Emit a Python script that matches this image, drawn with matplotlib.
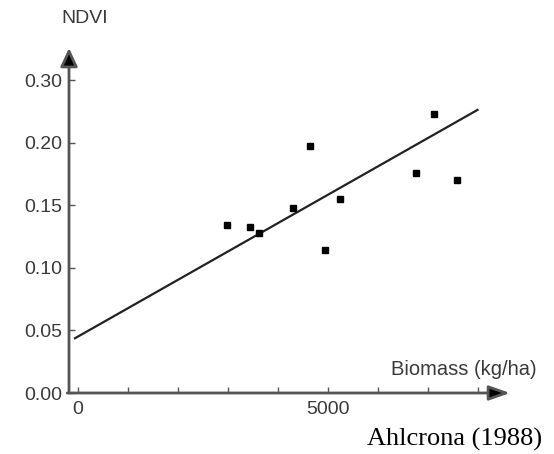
import matplotlib
matplotlib.use("Agg")
import matplotlib.pyplot as plt

# Data
biomass = [2974, 3446, 3620, 4294, 4646, 4946, 5234, 6760, 7126, 7586]
ndvi = [0.134, 0.133, 0.128, 0.148, 0.197, 0.114, 0.155, 0.176, 0.223, 0.170]
fit_x = [-60, 7990]
fit_intercept = 0.0451
fit_slope = 2.266e-5

ytick_pos = [0.00, 0.05, 0.10, 0.15, 0.20, 0.25]
ytick_labels = ["0.00", "0.05", "0.10", "0.15", "0.20", "0.30"]
xtick_pos = [0, 1000, 2000, 3000, 4000, 5000, 6000, 7000, 8000]
xtick_labels = ["0", "", "", "", "", "5000", "", "", ""]

W, H = 554, 454
fig = plt.figure(figsize=(W / 100, H / 100), dpi=100)
fig.patch.set_facecolor("white")

left_px, right_px, bottom_px, top_px = 69, 510, 393, 48
ax = fig.add_axes([left_px / W, (H - bottom_px) / H,
                   (right_px - left_px) / W, (bottom_px - top_px) / H])
ax.set_xlim(-180, 8640)
ax.set_ylim(0, 0.2756)

for s in ax.spines.values():
    s.set_visible(False)

axis_col = "#555555"
txt_col = "#3a3a3a"
font = ["Liberation Sans", "DejaVu Sans"]

# axis lines with arrowheads
ax.annotate("", xy=(1, 0), xytext=(-0.004, 0), xycoords="axes fraction",
            arrowprops=dict(arrowstyle="-|>,head_length=0.85,head_width=0.3",
                            lw=2, mutation_scale=15,
                            shrinkA=0, shrinkB=0, ec=axis_col, fc="black"))
ax.annotate("", xy=(0, 1), xytext=(0, 0), xycoords="axes fraction",
            arrowprops=dict(arrowstyle="-|>,head_length=0.75,head_width=0.35",
                            lw=2, mutation_scale=15,
                            shrinkA=0, shrinkB=0, ec=axis_col, fc="black"))

ax.set_yticks(ytick_pos)
ax.set_yticklabels(ytick_labels)
ax.set_xticks(xtick_pos)
ax.set_xticklabels(xtick_labels)
ax.tick_params(axis="both", direction="in", length=4, width=1, color=axis_col,
               labelsize=14, labelcolor=txt_col)
ax.tick_params(axis="y", pad=5)
ax.tick_params(axis="x", pad=6)
for lab in ax.get_xticklabels() + ax.get_yticklabels():
    lab.set_family(font)

# regression line
fit_y = [fit_intercept + fit_slope * v for v in fit_x]
ax.plot(fit_x, fit_y, color="#222222", lw=1.6, clip_on=False)

# points
ax.plot(biomass, ndvi, linestyle="none", marker="s", markersize=5,
        color="black", clip_on=False)

# labels
fig.text(85 / W, 1 - 18.5 / H, "NDVI", ha="center", va="center",
         fontsize=14, color=txt_col, family=font)
fig.text(464 / W, 1 - 369.5 / H, "Biomass (kg/ha)", ha="center", va="center",
         fontsize=14.5, color=txt_col, family=font)
fig.text(542 / W, 1 - 439 / H, "Ahlcrona (1988)", ha="right", va="center",
         fontsize=19, color="black", family=["Liberation Serif", "DejaVu Serif"])

fig.savefig("out.png", dpi=100, facecolor="white")
